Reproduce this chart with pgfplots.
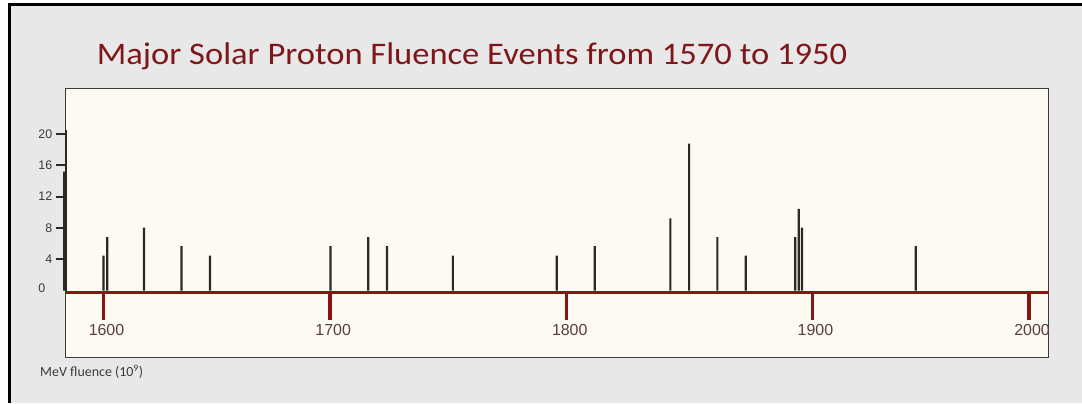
\documentclass[border=0pt]{standalone}
\usepackage{fontspec}
\setmainfont{Carlito}
\newfontfamily\titlefont[FakeStretch=1.1]{Carlito}
\newfontfamily\arialf{Liberation Sans}
\usepackage{pgfplots}
\pgfplotsset{compat=1.18}

\definecolor{bggray}{HTML}{E8E8E8}
\definecolor{cream}{HTML}{FDFAF3}
\definecolor{axred}{HTML}{8A1414}
\definecolor{titlered}{HTML}{7F161A}
\definecolor{barcol}{HTML}{2A2A20}
\definecolor{boxcol}{HTML}{3A3A3A}
\definecolor{xlab}{HTML}{5C3C3C}

\begin{document}
\begin{tikzpicture}[x=1bp,y=1bp]
\useasboundingbox (0,0) rectangle (1082,403);
\fill[white] (0,0) rectangle (1082,403);
\fill[bggray] (9.7,0) rectangle (1082,398.5);
\draw[black, line width=3bp] (9.7,0) -- (9.7,398.5) -- (1082,398.5);

\node[anchor=base west, text=titlered, font=\titlefont\fontsize{31.5}{36}\selectfont, inner sep=0]
  at (96.7,339) {Major Solar Proton Fluence Events from 1570 to 1950};

\begin{axis}[
  at={(65.7bp,45.3bp)}, anchor=south west,
  scale only axis, width=983bp, height=269bp,
  xmin=1583.67, xmax=2008.5, ymin=-8.58, ymax=25.77,
  clip=false,
  axis background/.style={fill=cream},
  axis line style={boxcol, line width=1.5bp},
  xtick={1600,1697.96,1800.2,1906.4,2000},
  xticklabels={1600,1700,1800,1900,2000},
  xtick style={draw=none},
  xticklabel style={font=\arialf\fontsize{16}{18}\selectfont, text=xlab, yshift=37bp, xshift=3bp},
  ytick={4,8,...,20}, ytick pos=left, ytick align=outside,
  major tick length=10bp,
  ytick style={barcol, line width=2bp},
  yticklabel style={font=\arialf\fontsize{12.5}{14}\selectfont, text=boxcol},
  extra y ticks={0},
  extra y tick style={major tick length=0pt, yticklabel style={xshift=-17bp, yshift=2bp}},
  /pgf/number format/assume math mode=true,
]
% year (as placed in the picture), fluence in 10^9
\addplot[ybar, bar width=2.2bp, fill=barcol, draw=none] coordinates {
  (1583.0,15.17) (1600.0,4.44) (1601.6,6.83) (1617.5,8.02) (1633.7,5.68)
  (1646.0,4.44) (1698.1,5.68) (1714.4,6.83) (1722.5,5.68) (1751.0,4.44)
  (1795.9,4.44) (1812.3,5.68) (1845.0,9.22) (1853.1,18.75) (1865.3,6.83)
  (1877.6,4.44) (1899.0,6.83) (1900.5,10.41) (1901.9,8.02) (1951.0,5.68)};
\draw[barcol, line width=2bp] (axis cs:1583.67,0) -- (axis cs:1583.67,20.5);
\draw[axred, line width=3.5bp] (axis cs:1583.67,-0.28) -- (axis cs:2008.5,-0.28);
\pgfplotsinvokeforeach{1600,1697.96,1800.2,1906.4,2000}{
  \draw[axred, line width=3.5bp] (axis cs:#1,-0.28) -- (axis cs:#1,-3.77);
}
\end{axis}

\fill[bggray] (1049.5,60) rectangle (1082,90);
\node[anchor=west, font=\fontsize{14}{16}\selectfont, text=boxcol, inner sep=0]
  at (40,31) {MeV fluence (10\textsuperscript{9})};
\end{tikzpicture}
\end{document}
